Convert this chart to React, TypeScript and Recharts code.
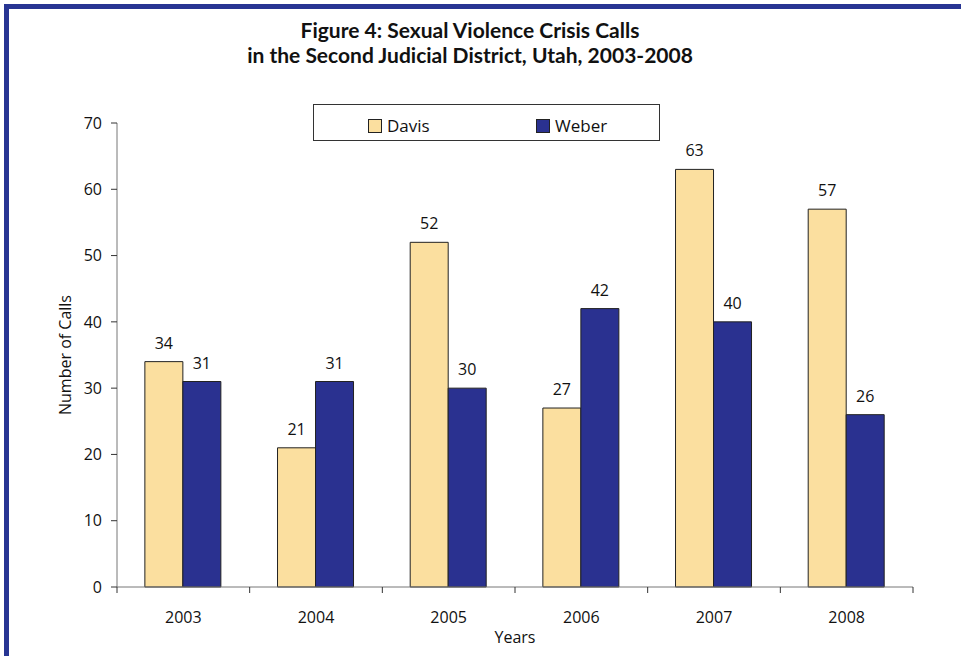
import { BarChart, Bar, XAxis, YAxis, Legend, LabelList } from 'recharts'

const years = ['2003', '2004', '2005', '2006', '2007', '2008']
const davis = [34, 21, 52, 27, 63, 57]
const weber = [31, 31, 30, 42, 40, 26]
const yTicks = [0, 10, 20, 30, 40, 50, 60, 70]
const titleLines = [
  'Figure 4: Sexual Violence Crisis Calls',
  'in the Second Judicial District, Utah, 2003-2008',
]

const DAVIS_FILL = '#fbdf9f'
const WEBER_FILL = '#2a3190'
const FRAME = '#283593'
const FONT = '"Open Sans", "Noto Sans", sans-serif'

const data = years.map((year, i) => ({ year, davis: davis[i], weber: weber[i] }))

// plot spans x 117..913, six bands
const BAND = (913 - 117) / years.length

function YearTick(props: any) {
  const { x, y, payload, index } = props
  return (
    <g>
      {index === 0 && (
        <line x1={x - BAND / 2} x2={x - BAND / 2} y1={y} y2={y + 6} stroke="#333" />
      )}
      <line x1={x + BAND / 2} x2={x + BAND / 2} y1={y} y2={y + 6} stroke="#333" />
      <text x={x} y={y + 36} textAnchor="middle" fontSize={16} fontFamily={FONT} fill="#111">
        {payload.value}
      </text>
    </g>
  )
}

function LegendBox() {
  const item = (color: string, label: string, left: number) => (
    <div style={{ position: 'absolute', left, top: 9, display: 'flex', alignItems: 'center' }}>
      <span
        style={{
          width: 12,
          height: 12,
          background: color,
          border: '1px solid #222',
          marginRight: 5,
        }}
      />
      <span style={{ fontSize: 17, fontFamily: FONT, color: '#111' }}>{label}</span>
    </div>
  )
  return (
    <div
      style={{
        position: 'relative',
        width: 345,
        height: 35,
        border: '1px solid #333',
        background: '#fff',
      }}
    >
      {item(DAVIS_FILL, 'Davis', 54)}
      {item(WEBER_FILL, 'Weber', 222)}
    </div>
  )
}

export default function App() {
  return (
    <div style={{ position: 'absolute', left: 0, top: 0, width: 961, height: 656, background: '#fff', overflow: 'hidden' }}>
      {titleLines.map((line, i) => (
        <div
          key={i}
          style={{
            position: 'absolute',
            left: 0,
            width: 940,
            top: 17 + i * 25,
            textAlign: 'center',
            fontFamily: 'Lato, "Open Sans", sans-serif',
            fontWeight: 700,
            fontSize: 21,
            lineHeight: '25px',
            color: '#111',
          }}
        >
          {line}
        </div>
      ))}
      <div style={{ position: 'absolute', left: 0, top: 0 }}>
        <BarChart
          width={961}
          height={656}
          data={data}
          margin={{ top: 123, right: 48, bottom: 19, left: 57 }}
          barCategoryGap="21%"
          barGap={0}
        >
          <XAxis
            dataKey="year"
            height={50}
            tick={<YearTick />}
            tickLine={false}
            tickSize={0}
            tickMargin={0}
            axisLine={{ stroke: '#777' }}
            label={{ value: 'Years', position: 'center', dy: 25, fontSize: 16, fontFamily: FONT, fill: '#111' }}
          />
          <YAxis
            width={60}
            domain={[0, 70]}
            ticks={yTicks}
            interval={0}
            tickSize={6}
            tickMargin={9}
            tickLine={{ stroke: '#333' }}
            axisLine={{ stroke: '#777' }}
            tick={{ fontSize: 16, fontFamily: FONT, fill: '#111' }}
            label={{ value: 'Number of Calls', angle: -90, position: 'center', dx: -22, fontSize: 16, fontFamily: FONT, fill: '#111' }}
          />
          <Legend
            layout="horizontal"
            verticalAlign="middle"
            align="center"
            content={<LegendBox />}
            wrapperStyle={{ position: 'absolute', left: 313, top: 104, width: 347, height: 37 }}
          />
          <Bar dataKey="davis" name="Davis" fill={DAVIS_FILL} stroke="#222" strokeWidth={1} isAnimationActive={false}>
            <LabelList dataKey="davis" position="top" offset={13} fontSize={16} fontFamily={FONT} fill="#111" />
          </Bar>
          <Bar dataKey="weber" name="Weber" fill={WEBER_FILL} stroke="#222" strokeWidth={1} isAnimationActive={false}>
            <LabelList dataKey="weber" position="top" offset={13} fontSize={16} fontFamily={FONT} fill="#111" />
          </Bar>
        </BarChart>
      </div>
      {/* frame: thick rule along top and left edge */}
      <div
        style={{
          position: 'absolute',
          left: 4,
          top: 4,
          width: 962,
          height: 660,
          borderTop: `5px solid ${FRAME}`,
          borderLeft: `5px solid ${FRAME}`,
          boxSizing: 'border-box',
          zIndex: 10,
          pointerEvents: 'none',
        }}
      />
    </div>
  )
}
